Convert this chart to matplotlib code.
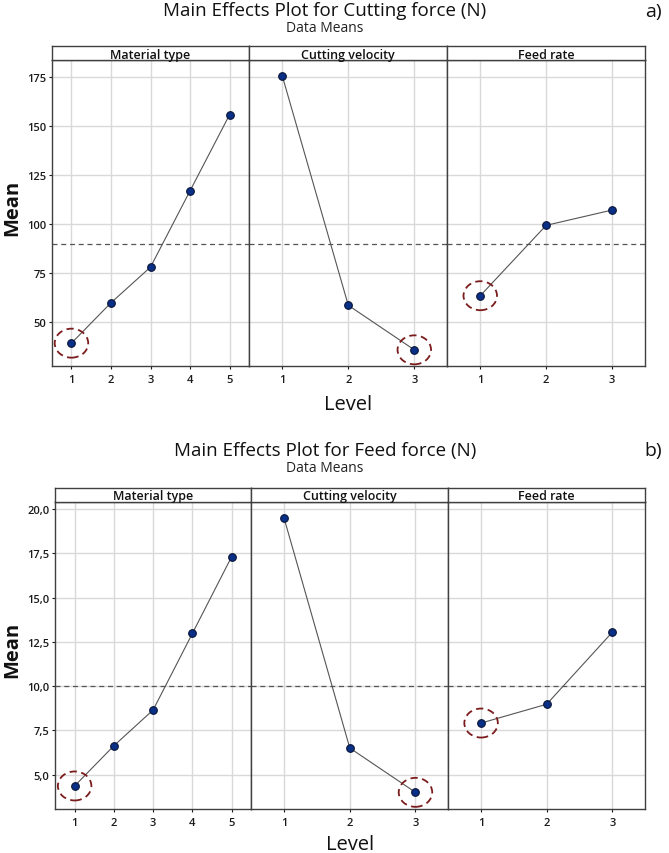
import numpy as np
import matplotlib
matplotlib.use("Agg")
import matplotlib.pyplot as plt
from matplotlib.patches import Ellipse
from matplotlib.transforms import ScaledTranslation

plt.rcParams['font.family'] = ['Open Sans', 'DejaVu Sans']

# ---------------- data ----------------
factors = ["Material type", "Cutting velocity", "Feed rate"]
material_levels = [1, 2, 3, 4, 5]
velocity_levels = [1, 2, 3]
feed_levels = [1, 2, 3]

cutting_material = [39.4, 60.0, 78.2, 117.1, 155.9]
cutting_velocity = [175.7, 58.7, 36.0]
cutting_feed = [63.6, 99.5, 107.3]
cutting_mean = 90.0
cutting_yticks = [50, 75, 100, 125, 150, 175]

feedf_material = [4.37, 6.64, 8.66, 12.98, 17.31]
feedf_velocity = [19.47, 6.51, 4.01]
feedf_feed = [7.92, 8.98, 13.04]
feedf_mean = 10.0
feedf_yticks = [5.0, 7.5, 10.0, 12.5, 15.0, 17.5, 20.0]

W, H = 669, 854
fig = plt.figure(figsize=(W / 100, H / 100), dpi=100)

GRID = "#d9d9d9"
SPINE = "#404040"
LINE = "#555555"
MFACE = "#0a2f86"
MEDGE = "#0a1538"
RING = "#7b1c1c"
TICKW = "semibold"


def px_axes(x0, y0, x1, y1):
    return fig.add_axes([x0 / W, 1 - y1 / H, (x1 - x0) / W, (y1 - y0) / H])


def draw_chart(xs_edges, y_strip, y_top, y_bot, series, levels, mean, ylim, yticks,
               yfmt, title, sub, tag, title_y, tag_y, level_y, mean_y):
    for i, (x0, x1) in enumerate(zip(xs_edges[:-1], xs_edges[1:])):
        ax = px_axes(x0, y_top, x1, y_bot)
        lv = levels[i]
        vals = series[i]
        ax.set_xlim(0.5, len(lv) + 0.5)
        ax.set_ylim(*ylim)
        ax.set_xticks(lv)
        ax.set_xticklabels([str(v) for v in lv], fontweight=TICKW)
        ax.set_yticks(yticks)
        ax.grid(True, color=GRID, lw=1.0)
        ax.set_axisbelow(True)
        ax.axhline(mean, color=LINE, lw=0.9, ls=(0, (4, 3)), zorder=2)
        ax.plot(lv, vals, color=LINE, lw=0.8, zorder=3)
        ax.plot(lv, vals, ls="none", marker="o", ms=5.5, mfc=MFACE, mec=MEDGE,
                mew=0.8, zorder=4)
        # dashed ring around the minimum point
        k = int(np.argmin(vals))
        tr = fig.dpi_scale_trans + ScaledTranslation(lv[k], vals[k], ax.transData)
        ring = Ellipse((0, 0), 0.335, 0.29, transform=tr, fill=False,
                       ec=RING, lw=1.3, ls=(0, (4, 2.5)), zorder=5)
        ax.add_patch(ring)
        for s in ax.spines.values():
            s.set_color(SPINE)
            s.set_linewidth(1.0)
        ax.tick_params(axis="x", length=2.5, width=0.8, pad=3, labelsize=8,
                       colors="#1a1a1a")
        if i == 0:
            ax.set_yticklabels([yfmt(v) for v in yticks], fontweight=TICKW)
            ax.tick_params(axis="y", length=2.5, width=0.8, pad=1.5,
                           labelsize=8, colors="#1a1a1a")
        else:
            ax.tick_params(axis="y", length=0, labelleft=False)
        # strip
        sx = px_axes(x0, y_strip, x1, y_top)
        sx.set_xticks([])
        sx.set_yticks([])
        for s in sx.spines.values():
            s.set_color(SPINE)
            s.set_linewidth(1.0)
        sx.text(0.5, 0.42, factors[i], ha="center", va="center", fontsize=9,
                fontweight=TICKW, color="#111111", transform=sx.transAxes)

    fig.text(325 / W, 1 - title_y / H, title, ha="center", va="center",
             fontsize=13.5, color="#111111")
    fig.text(325 / W, 1 - (title_y + 17) / H, sub, ha="center", va="center",
             fontsize=10, color="#222222")
    fig.text(653 / W, 1 - tag_y / H, tag, ha="center", va="center",
             fontsize=14, color="#111111")
    xc = (xs_edges[0] + xs_edges[-1]) / 2
    fig.text(xc / W, 1 - level_y / H, "Level", ha="center", va="center",
             fontsize=14.5, color="#111111")
    fig.text(12 / W, 1 - mean_y / H, "Mean", ha="center", va="center",
             fontsize=14.5, fontweight="bold", rotation=90, color="#111111")


draw_chart([51.7, 249.3, 447.3, 645], 47.3, 60.7, 367.3,
           [cutting_material, cutting_velocity, cutting_feed],
           [material_levels, velocity_levels, feed_levels],
           cutting_mean, (27.6, 184.0), cutting_yticks, lambda v: f"{v:d}",
           "Main Effects Plot for Cutting force (N)", "Data Means", "a)",
           11, 12, 405, 208)

draw_chart([55, 251.3, 448.3, 645], 489, 502.7, 810,
           [feedf_material, feedf_velocity, feedf_feed],
           [material_levels, velocity_levels, feed_levels],
           feedf_mean, (3.07, 20.41), feedf_yticks,
           lambda v: f"{v:.1f}".replace(".", ","),
           "Main Effects Plot for Feed force (N)", "Data Means", "b)",
           451, 451, 845, 650)

fig.savefig("out.png", dpi=100, facecolor="white")
